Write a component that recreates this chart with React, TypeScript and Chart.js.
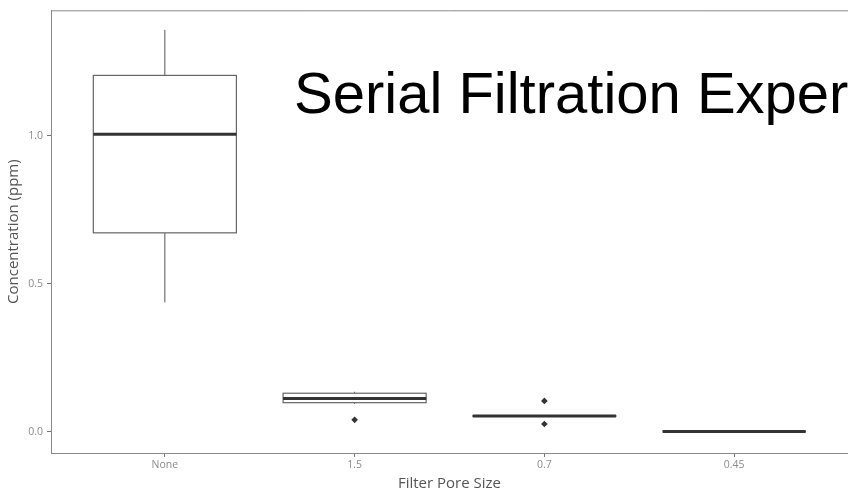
import React, { useEffect, useRef } from 'react';
import { Chart, registerables } from 'chart.js';

Chart.register(...registerables);

const categories = ['None', '1.5', '0.7', '0.45'];
const whiskerLow = [0.437, 0.094, 0.053, 0.001];
const q1 = [0.672, 0.098, 0.052, 0.001];
const median = [1.005, 0.112, 0.053, 0.001];
const q3 = [1.204, 0.13, 0.054, 0.001];
const whiskerHigh = [1.358, 0.135, 0.054, 0.001];
const outlierCategory = [1, 2, 2];
const outlierValue = [0.04, 0.104, 0.026];
const yTickValues = [0, 0.5, 1.0];
const titleText = 'Serial Filtration Experiment';
const xTitle = 'Filter Pore Size';
const yTitle = 'Concentration (ppm)';

const BOX_HALF = 0.377;

export default function App() {
  const ref = useRef<HTMLCanvasElement>(null);

  useEffect(() => {
    if (!ref.current) return;

    const boxPlugin = {
      id: 'boxPlot',
      beforeDatasetsDraw(chart: any) {
        const { ctx, chartArea, scales } = chart;
        const x = scales.x;
        const y = scales.y;
        ctx.save();
        // top frame line
        ctx.strokeStyle = '#8a8a8a';
        ctx.lineWidth = 1;
        ctx.beginPath();
        ctx.moveTo(chartArea.left, chartArea.top + 0.5);
        ctx.lineTo(chartArea.right, chartArea.top + 0.5);
        ctx.stroke();

        categories.forEach((_, i) => {
          const cx = x.getPixelForValue(i);
          const hw = x.getPixelForValue(i + BOX_HALF) - cx;
          const yLo = y.getPixelForValue(whiskerLow[i]);
          const yQ1 = y.getPixelForValue(q1[i]);
          const yMed = y.getPixelForValue(median[i]);
          const yQ3 = y.getPixelForValue(q3[i]);
          const yHi = y.getPixelForValue(whiskerHigh[i]);

          ctx.strokeStyle = '#555555';
          ctx.lineWidth = 1;
          ctx.beginPath();
          ctx.moveTo(cx, yQ1);
          ctx.lineTo(cx, yLo);
          ctx.moveTo(cx, yQ3);
          ctx.lineTo(cx, yHi);
          ctx.stroke();

          ctx.fillStyle = '#ffffff';
          ctx.fillRect(cx - hw, yQ3, 2 * hw, yQ1 - yQ3);
          ctx.strokeStyle = '#666666';
          ctx.lineWidth = 1.2;
          ctx.strokeRect(cx - hw, yQ3, 2 * hw, yQ1 - yQ3);

          ctx.strokeStyle = '#333333';
          ctx.lineWidth = 3;
          ctx.beginPath();
          ctx.moveTo(cx - hw, yMed);
          ctx.lineTo(cx + hw, yMed);
          ctx.stroke();
        });

        ctx.fillStyle = '#000000';
        ctx.font = '58px "Liberation Sans", Arial, sans-serif';
        ctx.textBaseline = 'alphabetic';
        ctx.textAlign = 'left';
        ctx.fillText(titleText, 294, 113);
        ctx.restore();
      },
    };

    const chart = new Chart(ref.current, {
      type: 'scatter',
      data: {
        datasets: [
          {
            data: outlierCategory.map((c, i) => ({ x: c, y: outlierValue[i] })),
            pointStyle: 'rectRot',
            pointRadius: 3.3,
            backgroundColor: '#333333',
            borderColor: '#333333',
            borderWidth: 0,
          },
        ],
      },
      options: {
        animation: false,
        responsive: false,
        devicePixelRatio: 1,
        layout: { padding: { top: 6, right: 0, left: 0, bottom: 0 } },
        plugins: {
          legend: { display: false },
          tooltip: { enabled: false },
        },
        scales: {
          x: {
            type: 'linear',
            min: -0.6,
            max: 3.6,
            afterBuildTicks: (s: any) => {
              s.ticks = categories.map((_, i) => ({ value: i }));
            },
            afterFit: (s: any) => {
              s.height = 40;
            },
            ticks: {
              callback: (v: any) => categories[v as number] ?? '',
              color: '#8c8c8c',
              font: { family: '"Open Sans", sans-serif', size: 10.5 },
              padding: 2,
              maxRotation: 0,
              autoSkip: false,
            },
            grid: {
              drawOnChartArea: false,
              drawTicks: true,
              tickLength: 4,
              color: '#777777',
            },
            border: { display: true, color: '#8a8a8a', width: 1 },
            title: {
              display: true,
              text: xTitle,
              color: '#555555',
              font: { family: '"Open Sans", sans-serif', size: 15 },
              padding: { top: 1, bottom: 0 },
            },
          },
          y: {
            type: 'linear',
            min: -0.072,
            max: 1.424,
            afterBuildTicks: (s: any) => {
              s.ticks = yTickValues.map((v) => ({ value: v }));
            },
            afterFit: (s: any) => {
              s.width = 51;
            },
            ticks: {
              callback: (v: any) => Number(v).toFixed(1),
              color: '#8c8c8c',
              font: { family: '"Open Sans", sans-serif', size: 10.5 },
              padding: 4,
            },
            grid: {
              drawOnChartArea: false,
              drawTicks: true,
              tickLength: 4,
              color: '#777777',
            },
            border: { display: true, color: '#8a8a8a', width: 1 },
            title: {
              display: true,
              text: yTitle,
              color: '#555555',
              font: { family: '"Open Sans", sans-serif', size: 15 },
              padding: { top: 5, bottom: 0 },
            },
          },
        },
      },
      plugins: [boxPlugin],
    });

    return () => chart.destroy();
  }, []);

  return (
    <div
      style={{
        position: 'absolute',
        left: 0,
        top: 0,
        width: 848,
        height: 493,
        overflow: 'hidden',
        background: '#ffffff',
      }}
    >
      <canvas ref={ref} width={852} height={493} style={{ display: 'block' }} />
    </div>
  );
}
